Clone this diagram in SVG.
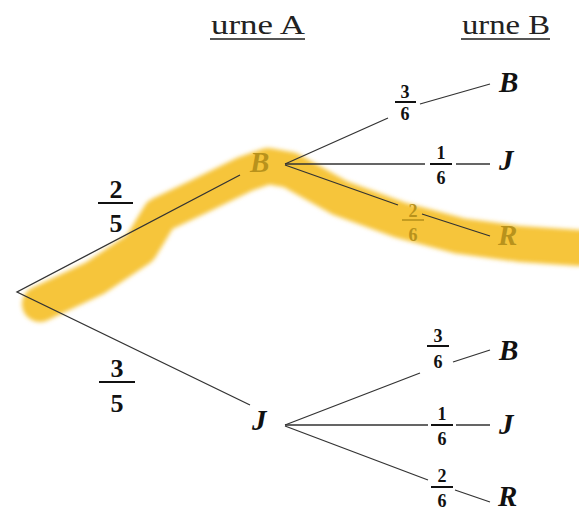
<svg xmlns="http://www.w3.org/2000/svg" width="579" height="513" viewBox="0 0 579 513">
<style>
.hd{font-family:"Liberation Serif",serif;font-size:28px;fill:#222}
.nd{font-family:"Liberation Serif",serif;font-size:29px;font-weight:bold;font-style:italic;fill:#111}
.fr{font-family:"Liberation Serif",serif;font-weight:bold;fill:#111;text-anchor:middle}
.gold{fill:#b8921c}
.ln{stroke:#333;stroke-width:1.3;fill:none}
.bar{stroke:#111;stroke-width:2}
</style>
<defs>
<filter id="soft" x="-10%" y="-30%" width="120%" height="160%"><feGaussianBlur stdDeviation="2"/></filter>
</defs>
<g id="highlight" filter="url(#soft)">
<path d="M40,304 L95,278 L140,248 L160,215 L200,196 L245,174 L268,166 L290,170 L340,198 L400,220 L460,236 L520,244 L579,248" fill="none" stroke="#f6c53a" stroke-width="36" stroke-linejoin="round" stroke-linecap="round"/>
</g>
<g id="headers">
<text class="hd" x="211" y="34" textLength="94" lengthAdjust="spacingAndGlyphs">urne A</text>
<line x1="210" y1="39" x2="305" y2="39" stroke="#555" stroke-width="1.8"/>
<text class="hd" x="462" y="34" textLength="88" lengthAdjust="spacingAndGlyphs">urne B</text>
<line x1="461" y1="39" x2="550" y2="39" stroke="#555" stroke-width="1.8"/>
</g>
<g id="connectors">
<path class="ln" d="M240,175 L17,292 L250,405"/>
<path class="ln" d="M285,164 L388,118 M420,104 L490,84"/>
<path class="ln" d="M285,164 L425,164 M456,164 L490,164"/>
<path class="ln" d="M285,165 L398,205 M422,214 L490,236"/>
<path class="ln" d="M285,425 L420,373 M453,362 L490,350"/>
<path class="ln" d="M285,425 L428,425 M456,425 L490,425"/>
<path class="ln" d="M285,426 L428,480 M455,490 L490,502"/>
</g>
<g id="f25">
<text class="fr" x="116" y="198" font-size="26">2</text>
<line class="bar" x1="98" y1="203" x2="133" y2="203"/>
<text class="fr" x="116" y="232" font-size="26">5</text>
</g>
<g id="f35">
<text class="fr" x="117" y="377" font-size="26">3</text>
<line class="bar" x1="99" y1="382" x2="135" y2="382"/>
<text class="fr" x="117" y="412" font-size="26">5</text>
</g>
<g id="nodeB1"><text class="nd gold" x="250" y="172">B</text></g>
<g id="nodeJ1"><text class="nd" x="252" y="430">J</text></g>
<g id="fBB">
<text class="fr" x="405" y="98" font-size="18">3</text>
<line class="bar" x1="395" y1="102" x2="416" y2="102" stroke-width="1.6"/>
<text class="fr" x="405" y="120" font-size="18">6</text>
</g>
<g id="fBJ">
<text class="fr" x="441" y="159" font-size="18">1</text>
<line class="bar" x1="430" y1="164" x2="452" y2="164" stroke-width="1.6"/>
<text class="fr" x="441" y="184" font-size="18">6</text>
</g>
<g id="fBR">
<text class="fr gold" x="413" y="217" font-size="18">2</text>
<line x1="402" y1="220" x2="424" y2="220" stroke="#b8921c" stroke-width="1.6"/>
<text class="fr gold" x="413" y="241" font-size="18">6</text>
</g>
<g id="nodeBB"><text class="nd" x="499" y="92">B</text></g>
<g id="nodeBJ"><text class="nd" x="499" y="170">J</text></g>
<g id="nodeBR"><text class="nd gold" x="498" y="245">R</text></g>
<g id="fJB">
<text class="fr" x="438" y="342" font-size="18">3</text>
<line class="bar" x1="427" y1="346" x2="449" y2="346" stroke-width="1.6"/>
<text class="fr" x="438" y="368" font-size="18">6</text>
</g>
<g id="fJJ">
<text class="fr" x="442" y="420" font-size="18">1</text>
<line class="bar" x1="431" y1="425" x2="453" y2="425" stroke-width="1.6"/>
<text class="fr" x="442" y="445" font-size="18">6</text>
</g>
<g id="fJR">
<text class="fr" x="442" y="482" font-size="18">2</text>
<line class="bar" x1="431" y1="487" x2="453" y2="487" stroke-width="1.6"/>
<text class="fr" x="442" y="507" font-size="18">6</text>
</g>
<g id="nodeJB"><text class="nd" x="499" y="360">B</text></g>
<g id="nodeJJ"><text class="nd" x="499" y="434">J</text></g>
<g id="nodeJR"><text class="nd" x="498" y="506">R</text></g>
</svg>
